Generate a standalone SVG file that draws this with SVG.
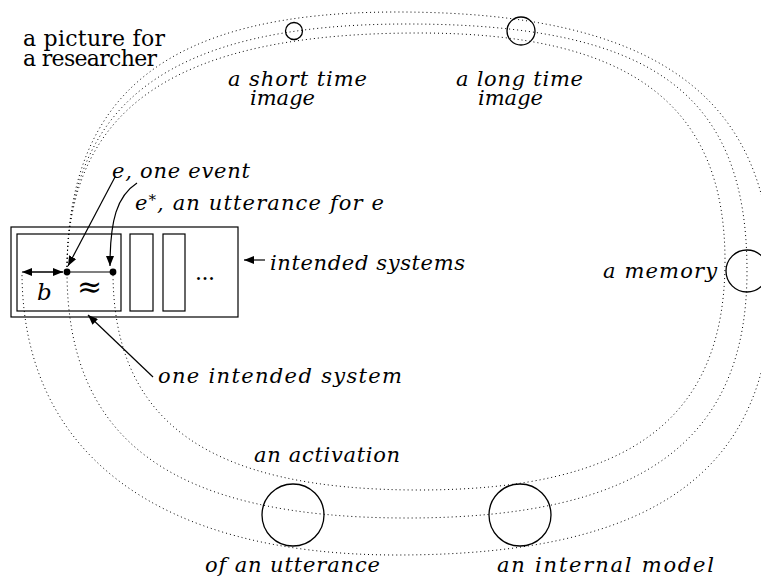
<svg xmlns="http://www.w3.org/2000/svg" width="761" height="576" viewBox="0 0 761 576">
  <style>
    .loop { fill: none; stroke: #000; stroke-width: 1; stroke-dasharray: 1 3; }
    .ring { fill: none; stroke: #000; stroke-width: 1.3; }
    .box { fill: none; stroke: #000; stroke-width: 1.2; }
    .arrow { fill: none; stroke: #000; stroke-width: 1.2; }
    text { font-family: 'DejaVu Serif', 'Liberation Serif', 'Times New Roman', serif; }
  </style>
  <defs>
    <marker id="head" viewBox="0 0 10 8" refX="10" refY="4" markerWidth="10" markerHeight="8" markerUnits="userSpaceOnUse" orient="auto-start-reverse">
      <path d="M0,0 L10,4 L0,8 z" fill="#000"/>
    </marker>
  </defs>

  <!-- three dotted cycles, all leaving the event e and returning to b, e and e* -->
  <g id="connectors">
    <path id="loop-outer" class="loop" d="M67,271 C67,92 169,12 397,12 C656,12 772,96 772,283 C772,471 656,555 397,555 C157,555 22,453 22,272"/>
    <path id="loop-middle" class="loop" d="M67,271 C67,101 172,24 407,24 C652,24 747,93 747,271 C747,441 642,518 407,518 C172,518 67,441 67,271"/>
    <path id="loop-inner" class="loop" d="M67,271 C67,107 176,33 419,33 C630,33 725,104 725,261 C725,419 630,490 419,490 C208,490 113,422 113,272"/>

    <!-- b interval and the event / utterance points -->
    <line class="arrow" x1="63" y1="272" x2="22" y2="272" marker-end="url(#head)"/>
    <line class="arrow" x1="30" y1="272" x2="63" y2="272" marker-end="url(#head)"/>
    <line class="arrow" x1="67" y1="272" x2="113" y2="272"/>

    <line class="arrow" x1="115" y1="177" x2="68" y2="266" marker-end="url(#head)"/>
    <path class="arrow" d="M137,183 C117,196 110,220 110,266" marker-end="url(#head)"/>
    <line class="arrow" x1="153" y1="377" x2="88" y2="315" marker-end="url(#head)"/>
    <line class="arrow" x1="265" y1="260" x2="244" y2="260" marker-end="url(#head)"/>
  </g>

  <g fill="#000">
    <g id="intended-systems">
      <rect class="box" x="11" y="227" width="227" height="90"/>
      <text x="195" y="280" font-size="22" textLength="20" lengthAdjust="spacing">...</text>
    </g>
    <g id="one-intended-system">
      <rect class="box" x="17" y="234" width="104" height="77"/>
      <text x="37" y="300" font-size="23" font-style="italic">b</text>
      <text x="77" y="297" font-size="30">≈</text>
    </g>
    <g id="system-2"><rect class="box" x="130" y="234" width="23" height="77"/></g>
    <g id="system-3"><rect class="box" x="163" y="234" width="22" height="77"/></g>

    <g id="event-e"><circle cx="67" cy="272" r="3.4"/></g>
    <g id="utterance-e-star"><circle cx="113" cy="272" r="3.4"/></g>

    <g id="short-time-image"><circle class="ring" cx="294" cy="31" r="8.5"/></g>
    <g id="long-time-image"><circle class="ring" cx="521" cy="31" r="14"/></g>
    <g id="memory"><circle class="ring" cx="747" cy="271" r="21"/></g>
    <g id="activation"><circle class="ring" cx="293" cy="515" r="31"/></g>
    <g id="internal-model"><circle class="ring" cx="520" cy="515" r="31"/></g>

    <g id="title" font-size="22">
      <text x="23" y="46" textLength="142" lengthAdjust="spacing">a picture for</text>
      <text x="23" y="66" textLength="134" lengthAdjust="spacing">a researcher</text>
    </g>
    <g id="labels" font-size="21" font-style="italic">
      <text x="228" y="86" textLength="139" lengthAdjust="spacing">a short time</text>
      <text x="250" y="105" textLength="65" lengthAdjust="spacing">image</text>
      <text x="456" y="86" textLength="127" lengthAdjust="spacing">a long time</text>
      <text x="478" y="105" textLength="65" lengthAdjust="spacing">image</text>
      <text x="112" y="178" textLength="138" lengthAdjust="spacing">e, one event</text>
      <text x="135" y="210">e</text>
      <text x="147" y="202" font-size="15" font-style="normal">∗</text>
      <text x="157" y="210" textLength="227" lengthAdjust="spacing">, an utterance for e</text>
      <text x="270" y="270" textLength="195" lengthAdjust="spacing">intended systems</text>
      <text x="603" y="278" textLength="114" lengthAdjust="spacing">a memory</text>
      <text x="158" y="383" textLength="244" lengthAdjust="spacing">one intended system</text>
      <text x="254" y="462" textLength="146" lengthAdjust="spacing">an activation</text>
      <text x="205" y="572" textLength="175" lengthAdjust="spacing">of an utterance</text>
      <text x="497" y="572" textLength="217" lengthAdjust="spacing">an internal model</text>
    </g>
  </g>
</svg>
